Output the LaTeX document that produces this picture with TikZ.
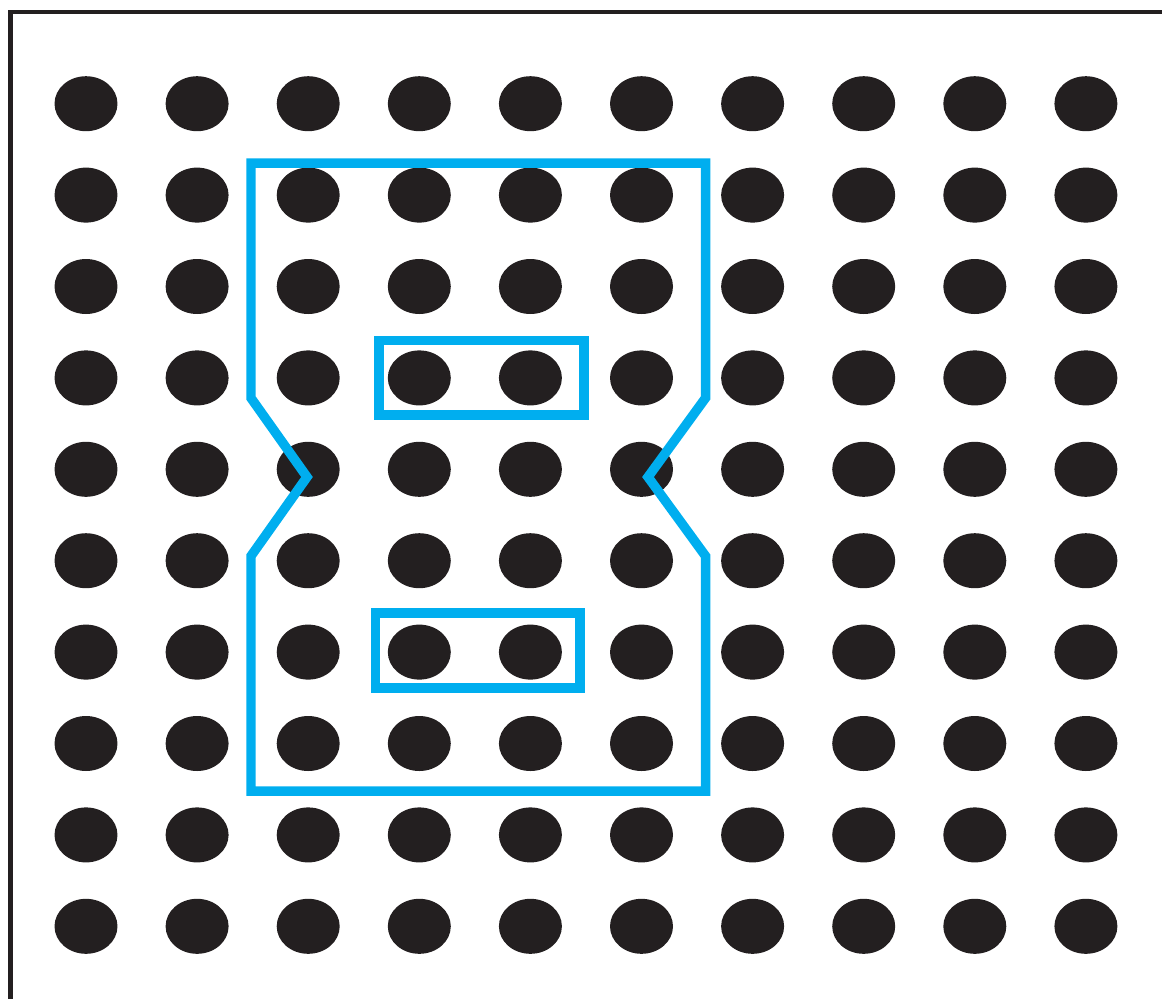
\documentclass[tikz,border=0pt]{standalone}
\usepackage{tikz}
\usetikzlibrary{shapes.geometric}

\definecolor{dotblack}{HTML}{231F20}
\definecolor{markblue}{HTML}{00AEEF}

\begin{document}
\begin{tikzpicture}[
    x=0.02cm, y=-0.02cm,
    dot/.style={ellipse, fill=dotblack, draw=none, inner sep=0pt, minimum width=1.26cm, minimum height=1.1cm},
    frame/.style={draw=dotblack, line width=2.3pt},
    outline/.style={draw=markblue, line width=5.4pt, line join=miter}
]
\useasboundingbox (0,0) rectangle (1162,998);

% page edge
\draw [frame] (10.5,1010) -- (10.5,12) -- (1175,12);

% grid of dots
\foreach \i in {0,...,9} {
  \foreach \j in {0,...,9} {
    \node (d-\i-\j) [dot] at ({86+111.1*\i},{103.7+91.4*\j}) {};
  }
}

% outer region with notches
\draw [outline] (251,163) -- (705.5,163) -- (705.5,398) -- (648,477)
  -- (705.5,556) -- (705.5,791) -- (251,791) -- (251,556) -- (307,477)
  -- (251,398) -- cycle;

% inner pairs
\draw [outline] (379,340.5) rectangle (584,415);
\draw [outline] (375.5,613) rectangle (580,688);

\end{tikzpicture}
\end{document}
